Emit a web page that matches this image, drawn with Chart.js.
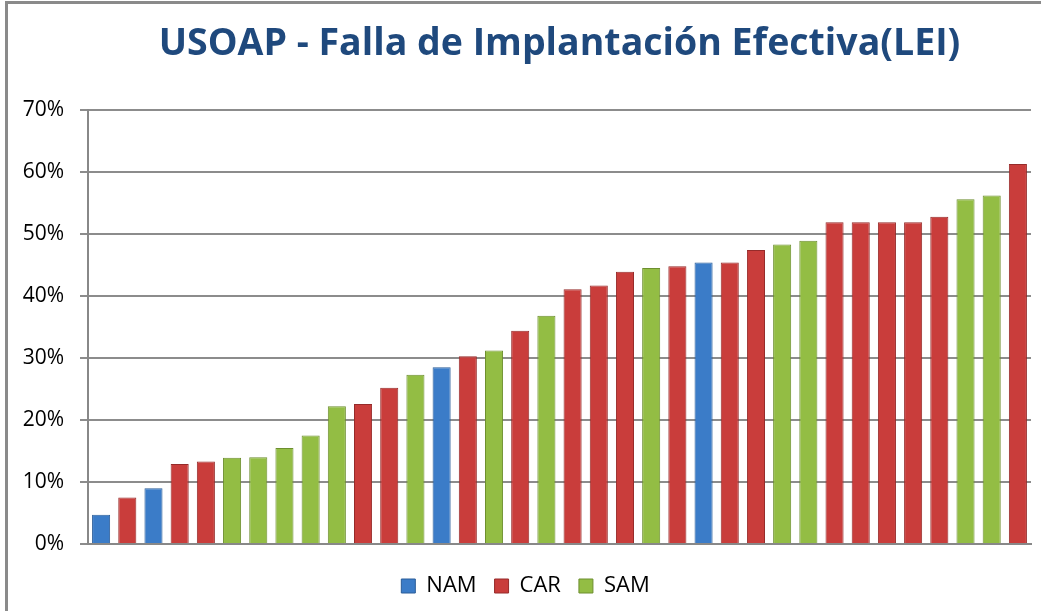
<!DOCTYPE html>
<html>
<head>
<meta charset="utf-8">
<script src="https://cdn.jsdelivr.net/npm/chart.js@4.4.1/dist/chart.umd.min.js"></script>
<style>
    html, body { margin: 0; padding: 0; background: #fff; }
    #wrap { position: relative; width: 1041px; height: 611px; overflow: hidden; }
    #frame { position: absolute; left: 5px; top: 1px; width: 1100px; height: 700px;
             border-top: 3px solid #8a8a8a; border-left: 3px solid #8a8a8a; }
    canvas { position: absolute; left: 0; top: 0; }
</style>
</head>
<body>
<div id="wrap">
    <div id="frame"></div>
    <canvas id="leiChart" width="1041" height="611"></canvas>
</div>
<script>
// one entry per State, sorted ascending
const regions = ['NAM', 'CAR', 'NAM', 'CAR', 'CAR', 'SAM', 'SAM', 'SAM', 'SAM', 'SAM',
                 'CAR', 'CAR', 'SAM', 'NAM', 'CAR', 'SAM', 'CAR', 'SAM', 'CAR', 'CAR',
                 'CAR', 'SAM', 'CAR', 'NAM', 'CAR', 'CAR', 'SAM', 'SAM', 'CAR', 'CAR',
                 'CAR', 'CAR', 'CAR', 'SAM', 'SAM', 'CAR'];
const leiValues = [4.7, 7.5, 9.0, 12.9, 13.3, 13.9, 14.0, 15.5, 17.5, 22.2,
                   22.6, 25.2, 27.3, 28.5, 30.3, 31.2, 34.4, 36.8, 41.1, 41.7,
                   43.9, 44.5, 44.8, 45.4, 45.4, 47.4, 48.3, 48.9, 51.9, 51.9,
                   51.9, 51.9, 52.8, 55.6, 56.2, 61.3];
const legendNames = ['NAM', 'CAR', 'SAM'];
const yTicks = [0, 10, 20, 30, 40, 50, 60, 70];

const regionColors = { NAM: '#3b7cc8', CAR: '#c93d3b', SAM: '#93bd44' };
const regionBorders = { NAM: '#2a5d99', CAR: '#962b2a', SAM: '#6d8f2f' };

const titlePlugin = {
    id: 'centerTitle',
    afterDraw(chart) {
        const ctx = chart.ctx;
        const a = chart.chartArea;
        ctx.save();
        ctx.font = 'bold 37.5px "Open Sans"';
        ctx.fillStyle = '#1f497d';
        ctx.textAlign = 'center';
        ctx.textBaseline = 'alphabetic';
        ctx.fillText('USOAP - Falla de Implantación Efectiva(LEI)', (a.left + a.right) / 2, 55);
        ctx.restore();
    }
};

const data = {
    labels: regions,
    datasets: [{
        label: 'LEI',
        data: leiValues,
        backgroundColor: regions.map(r => regionColors[r]),
        borderColor: regions.map(r => regionBorders[r]),
        borderWidth: 1,
        categoryPercentage: 1,
        barPercentage: 0.69
    }]
};

const config = {
    type: 'bar',
    data: data,
    options: {
        responsive: false,
        animation: false,
        layout: {
            padding: { left: 20, right: 10, top: 110, bottom: 4 }
        },
        plugins: {
            title: { display: false },
            tooltip: { enabled: false },
            legend: {
                position: 'bottom',
                labels: {
                    font: { family: '"Open Sans"', size: 22 },
                    color: '#000',
                    boxWidth: 14,
                    boxHeight: 14,
                    padding: 18,
                    generateLabels: () => legendNames.map(n => ({
                        text: n,
                        fillStyle: regionColors[n],
                        strokeStyle: regionBorders[n],
                        lineWidth: 1,
                        hidden: false
                    }))
                },
                onClick: () => {}
            }
        },
        scales: {
            x: {
                ticks: { display: false },
                grid: { display: false },
                border: { color: '#888', width: 2 },
                afterFit: axis => { axis.height = 13; }
            },
            y: {
                min: 0,
                max: 70,
                afterBuildTicks: axis => { axis.ticks = yTicks.map(v => ({ value: v })); },
                ticks: {
                    callback: v => v + '%',
                    font: { family: '"Open Sans"', size: 21 },
                    color: '#000',
                    padding: 16
                },
                grid: { color: '#8c8c8c', lineWidth: 2, tickLength: 8 },
                border: { color: '#888', width: 2 },
                afterFit: axis => { axis.width = 68; }
            }
        }
    },
    plugins: [titlePlugin]
};

let ctx = document.getElementById('leiChart').getContext('2d');
new Chart(ctx, config);
</script>
</body>
</html>
